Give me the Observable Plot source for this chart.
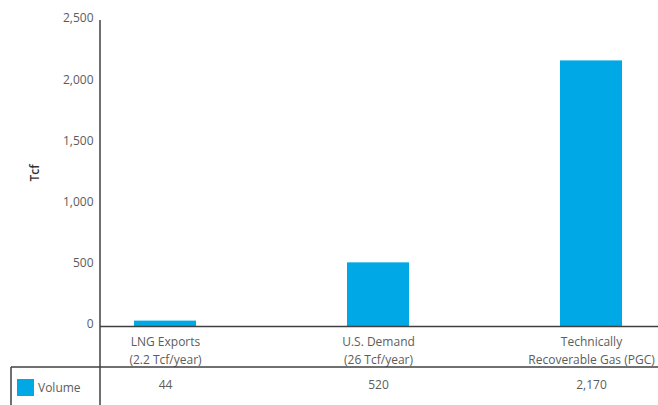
<!DOCTYPE html>
<html>
<head>
<meta charset="utf-8">
<script src="https://cdn.jsdelivr.net/npm/d3@7"></script>
<script src="https://cdn.jsdelivr.net/npm/@observablehq/plot@0.6"></script>
<style>
  body { margin: 0; overflow: hidden; background: #fff; }
</style>
</head>
<body>
<div id="chart"></div>
<script>
// Natural gas volumes compared (Tcf)
const categories = ["LNG Exports\n(2.2 Tcf/year)", "U.S. Demand\n(26 Tcf/year)", "Technically\nRecoverable Gas (PGC)"];
const volumes = [44, 520, 2170];
const yTicks = [0, 500, 1000, 1500, 2000, 2500];
const seriesName = "Volume";
const yTitle = "Tcf";

const data = categories.map((c, i) => ({category: c, value: volumes[i]}));

const W = 658, H = 405;
const ink = "#404040";
const textColor = "#5c5c5c";
const barColor = "#00a9e6";
const fmt = d3.format(",");

const plot = Plot.plot({
  width: W,
  height: H,
  marginLeft: 100,
  marginRight: 0,
  marginTop: 20,
  marginBottom: 79,
  style: {fontFamily: "'Open Sans', sans-serif", fontSize: "12px", color: textColor, background: "#fff"},
  x: {domain: categories, range: [57, 698], paddingInner: 0.71, paddingOuter: 0.355},
  y: {domain: [0, 2500]},
  marks: [
    Plot.barY(data, {x: "category", y: "value", fill: barColor}),
    Plot.axisY(yTicks, {tickSize: 0, tickPadding: 7, tickFormat: fmt, label: null, dy: -2}),
    Plot.axisX({tickSize: 0, tickPadding: 7, lineHeight: 1.5, label: null}),
    // data table row under the category labels
    Plot.text(data, {x: "category", text: d => fmt(d.value), frameAnchor: "bottom", dy: 62}),
    Plot.ruleY([0], {stroke: ink, strokeWidth: 1.5})
  ]
});

document.getElementById("chart").append(plot);

// axis line, table grid, legend key and axis title
const svg = d3.select(plot);
const y = plot.scale("y");
const yBase = y.apply(0);
const yTop = y.apply(2500);
const xAxis = 100;
const tableTop = yBase + 41;
const rowMid = yBase + 62;

const g = svg.append("g").attr("text-anchor", "start");
g.append("line").attr("x1", xAxis).attr("x2", xAxis).attr("y1", yTop).attr("y2", H)
  .attr("stroke", ink).attr("stroke-width", 1.5);
g.append("line").attr("x1", 11).attr("x2", W).attr("y1", tableTop).attr("y2", tableTop)
  .attr("stroke", ink).attr("stroke-width", 1.5);
g.append("line").attr("x1", 11).attr("x2", 11).attr("y1", tableTop).attr("y2", H)
  .attr("stroke", ink).attr("stroke-width", 1.5);
g.append("rect").attr("x", 17).attr("y", rowMid - 9).attr("width", 17).attr("height", 17)
  .attr("fill", barColor);
g.append("text").attr("x", 38).attr("y", rowMid).attr("dy", "0.35em")
  .attr("text-anchor", "start")
  .attr("fill", textColor).attr("font-size", 12).text(seriesName);
g.append("text")
  .attr("transform", `translate(35,${(yTop + yBase) / 2}) rotate(-90)`)
  .attr("text-anchor", "middle").attr("dy", "0.35em")
  .attr("fill", "#333").attr("font-size", 12).attr("font-weight", 600)
  .text(yTitle);
</script>
</body>
</html>
